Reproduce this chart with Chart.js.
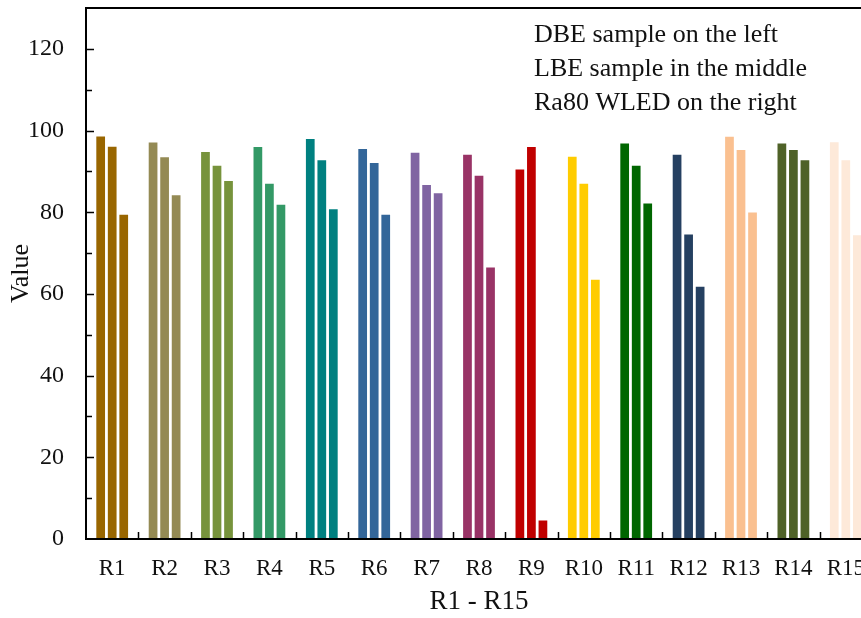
<!DOCTYPE html>
<html>
<head>
<meta charset="utf-8">
<script src="https://cdn.jsdelivr.net/npm/chart.js@4"></script>
<style>
html, body { margin: 0; padding: 0; background: #fff; overflow: hidden; }
#wrap { width: 880px; height: 618px; }
</style>
</head>
<body>
<div id="wrap"><canvas id="chart" width="880" height="618"></canvas></div>
<script>
// Categorias e valores
const categories = ['R1', 'R2', 'R3', 'R4', 'R5', 'R6', 'R7', 'R8', 'R9', 'R10', 'R11', 'R12', 'R13', 'R14', 'R15'];
const dbeLeft   = [98.8, 97.3, 95.0, 96.2, 98.2, 95.7, 94.8, 94.3, 90.7, 93.8, 97.1, 94.3, 98.7, 97.1, 97.4];
const lbeMiddle = [96.3, 93.7, 91.6, 87.2, 93.0, 92.3, 86.9, 89.2, 96.2, 87.2, 91.6, 74.8, 95.5, 95.5, 93.0];
const ra80Right = [79.6, 84.4, 87.9, 82.1, 81.0, 79.6, 84.9, 66.7, 4.8, 63.7, 82.4, 62.0, 80.2, 93.0, 74.6];

// Uma cor por grupo (as três barras do grupo usam a mesma)
const groupColors = ['#996600', '#948a54', '#77933c', '#339966', '#008080', '#336699', '#8064a2',
                     '#993366', '#c00000', '#ffcc00', '#006600', '#254061', '#fac090', '#4f6228', '#fde9d9'];

const notes = ['DBE sample on the left', 'LBE sample in the middle', 'Ra80 WLED on the right'];

const SERIF = '"Liberation Serif", "Times New Roman", serif';
const TEXT = '#111';

// Moldura, ticks para dentro e as notas no canto
const framePlugin = {
    id: 'frame',
    afterDraw(chart) {
        const { ctx, chartArea: a, scales: { x, y } } = chart;
        ctx.save();
        ctx.strokeStyle = '#000';
        ctx.lineWidth = 2;
        ctx.strokeRect(a.left, a.top, a.right - a.left, a.bottom - a.top);

        ctx.lineWidth = 1.5;
        ctx.beginPath();
        y.ticks.forEach(t => {
            if (t.value <= 0 || t.value >= y.max) return;
            const py = Math.round(y.getPixelForValue(t.value)) + 0.5;
            const len = t.value % 20 === 0 ? 8 : 6;
            ctx.moveTo(a.left, py);
            ctx.lineTo(a.left + len, py);
        });
        for (let i = 1; i < categories.length; i++) {
            const px = Math.round((x.getPixelForValue(i - 1) + x.getPixelForValue(i)) / 2) + 0.5;
            ctx.moveTo(px, a.bottom);
            ctx.lineTo(px, a.bottom - 7);
        }
        ctx.stroke();

        ctx.fillStyle = TEXT;
        ctx.font = '26px ' + SERIF;
        ctx.textBaseline = 'alphabetic';
        notes.forEach((n, i) => ctx.fillText(n, 534, 42 + i * 34));
        ctx.restore();
    }
};

const mkDataset = (label, data) => ({
    label: label,
    data: data,
    backgroundColor: groupColors,
    borderColor: 'rgba(255,255,255,0.3)',
    borderWidth: 1,
    categoryPercentage: 0.66,
    barPercentage: 0.93
});

new Chart(document.getElementById('chart'), {
    type: 'bar',
    data: {
        labels: categories,
        datasets: [
            mkDataset('DBE', dbeLeft),
            mkDataset('LBE', lbeMiddle),
            mkDataset('Ra80 WLED', ra80Right)
        ]
    },
    options: {
        responsive: false,
        animation: false,
        layout: { padding: { top: 8, right: 8, left: 0, bottom: 0 } },
        plugins: {
            legend: { display: false },
            tooltip: { enabled: false }
        },
        scales: {
            x: {
                grid: { display: false, drawTicks: false },
                border: { display: false },
                ticks: { color: TEXT, font: { family: SERIF, size: 23 }, padding: 16, maxRotation: 0, autoSkip: false },
                title: { display: true, text: 'R1 - R15', color: TEXT, font: { family: SERIF, size: 27 }, padding: { top: 2, bottom: 0 } },
                afterFit(scale) {
                    scale.height = 79;
                    scale.paddingLeft = 0;
                    scale.paddingRight = 0;
                }
            },
            y: {
                min: 0,
                max: 130,
                grid: { display: false, drawTicks: false },
                border: { display: false },
                ticks: {
                    stepSize: 10,
                    color: TEXT,
                    font: { family: SERIF, size: 24 },
                    padding: 22,
                    callback: v => (v % 20 === 0 ? v : '')
                },
                title: { display: true, text: 'Value', color: TEXT, font: { family: SERIF, size: 26 }, padding: { top: 6, bottom: 0 } },
                afterFit(scale) {
                    scale.width = 86;
                    scale.paddingTop = 0;
                    scale.paddingBottom = 0;
                }
            }
        }
    },
    plugins: [framePlugin]
});
</script>
</body>
</html>
